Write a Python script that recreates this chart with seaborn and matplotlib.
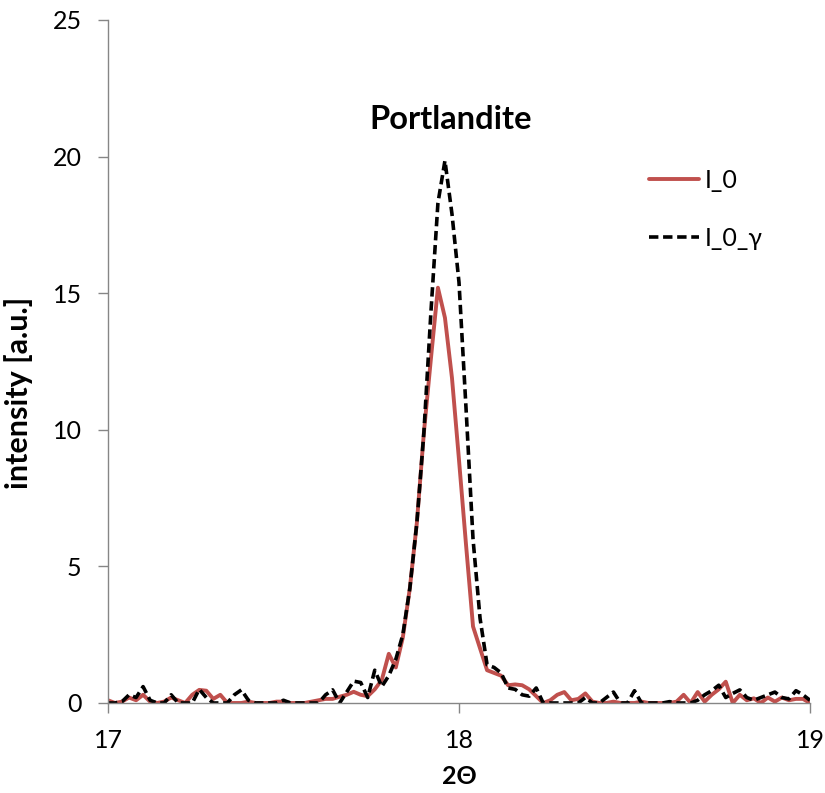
import matplotlib
matplotlib.use("Agg")
import matplotlib.pyplot as plt
import numpy as np
import pandas as pd
import seaborn as sns

# 2-theta grid, step 0.02 deg
TWO_THETA = np.round(np.arange(17.0, 19.0001, 0.02), 2)

I_0 = [
    0.10, 0.00, 0.05, 0.20, 0.10, 0.30, 0.05, 0.00, 0.05, 0.20,
    0.10, 0.00, 0.30, 0.48, 0.45, 0.15, 0.30, 0.00, 0.00, 0.00,
    0.05, 0.00, 0.00, 0.00, 0.05, 0.05, 0.00, 0.00, 0.00, 0.05,
    0.10, 0.15, 0.15, 0.23, 0.30, 0.41, 0.30, 0.25, 0.50, 0.84,
    1.80, 1.30, 2.40, 4.20, 6.60, 9.90, 12.6, 15.2, 14.1, 11.9,
    8.90, 5.80, 2.80, 2.00, 1.20, 1.10, 1.00, 0.65, 0.68, 0.65,
    0.50, 0.25, 0.00, 0.10, 0.30, 0.40, 0.10, 0.15, 0.35, 0.05,
    0.00, 0.00, 0.05, 0.00, 0.00, 0.00, 0.05, 0.00, 0.00, 0.00,
    0.00, 0.05, 0.30, 0.00, 0.40, 0.05, 0.30, 0.50, 0.78, 0.00,
    0.30, 0.10, 0.17, 0.00, 0.20, 0.05, 0.20, 0.10, 0.15, 0.15,
    0.00,
]

I_0_GAMMA = [
    0.00, 0.00, 0.05, 0.30, 0.20, 0.60, 0.10, 0.00, 0.00, 0.30,
    0.00, 0.00, 0.00, 0.50, 0.20, 0.00, 0.00, 0.00, 0.30, 0.48,
    0.10, 0.00, 0.00, 0.00, 0.00, 0.10, 0.00, 0.00, 0.00, 0.00,
    0.00, 0.30, 0.48, 0.00, 0.40, 0.80, 0.75, 0.20, 1.20, 0.60,
    1.00, 1.60, 2.50, 4.20, 6.60, 9.90, 14.3, 18.3, 19.85, 17.9,
    15.4, 10.8, 6.00, 3.10, 1.40, 1.30, 1.10, 0.55, 0.50, 0.30,
    0.25, 0.55, 0.00, 0.00, 0.00, 0.00, 0.00, 0.00, 0.20, 0.00,
    0.00, 0.20, 0.40, 0.00, 0.00, 0.45, 0.00, 0.00, 0.00, 0.00,
    0.05, 0.00, 0.00, 0.00, 0.10, 0.30, 0.45, 0.65, 0.20, 0.35,
    0.48, 0.20, 0.10, 0.20, 0.30, 0.40, 0.20, 0.15, 0.45, 0.30,
    0.10,
]

SERIES_NAMES = ["I_0", "I_0_\u03b3"]
X_TICKS = [17, 18, 19]
Y_TICKS = [0, 5, 10, 15, 20, 25]
PEAK_LABEL = "Portlandite"

RED = "#C0504D"
AXIS_GREY = "#868686"


def main() -> None:
    sns.set_theme(style="white")
    plt.rcParams["font.family"] = ["Lato", "DejaVu Sans"]
    plt.rcParams["axes.unicode_minus"] = False
    plt.rcParams["text.color"] = "black"
    plt.rcParams["axes.labelcolor"] = "black"

    df = pd.DataFrame({
        "two_theta": np.concatenate([TWO_THETA, TWO_THETA]),
        "intensity": I_0 + I_0_GAMMA,
        "series": [SERIES_NAMES[0]] * len(TWO_THETA) + [SERIES_NAMES[1]] * len(TWO_THETA),
    })

    fig = plt.figure(figsize=(8.25, 7.93), dpi=100)
    ax = fig.add_axes([0.1309, 0.1135, 0.8509, 0.8613])

    sns.lineplot(
        data=df[df["series"] == SERIES_NAMES[0]],
        x="two_theta", y="intensity",
        color=RED, linewidth=2.8, label=SERIES_NAMES[0], ax=ax,
    )
    sns.lineplot(
        data=df[df["series"] == SERIES_NAMES[1]],
        x="two_theta", y="intensity",
        color="black", linewidth=2.6, label=SERIES_NAMES[1], ax=ax,
    )
    ax.lines[1].set_dashes([2.6, 1.3])

    ax.set_xlim(17, 19)
    ax.set_ylim(0, 25)
    ax.set_xticks(X_TICKS)
    ax.set_yticks(Y_TICKS)

    for side in ("top", "right"):
        ax.spines[side].set_visible(False)
    for side in ("left", "bottom"):
        ax.spines[side].set_color(AXIS_GREY)
        ax.spines[side].set_linewidth(1.0)

    ax.tick_params(axis="both", which="major", direction="out", length=7,
                   width=1.0, color=AXIS_GREY, labelcolor="black",
                   labelsize=18, pad=12, left=True, bottom=True)

    ax.set_xlabel("2\u0398", fontsize=18, fontweight="bold", labelpad=9)
    ax.set_ylabel("intensity [a.u.]", fontsize=22, fontweight="bold")
    ax.yaxis.set_label_coords(-0.107, 0.454)

    ax.text(17.975, 21.35, PEAK_LABEL, ha="center", va="center",
            fontsize=23.5, fontweight="bold")

    ax.legend(
        loc="upper left", bbox_to_anchor=(0.775, 0.80),
        bbox_transform=fig.transFigure, frameon=False, fontsize=18,
        handlelength=2.0, handletextpad=0.2, labelspacing=1.4,
        borderaxespad=0,
    )

    fig.savefig("out.png", dpi=100)
    plt.close(fig)


if __name__ == "__main__":
    main()
